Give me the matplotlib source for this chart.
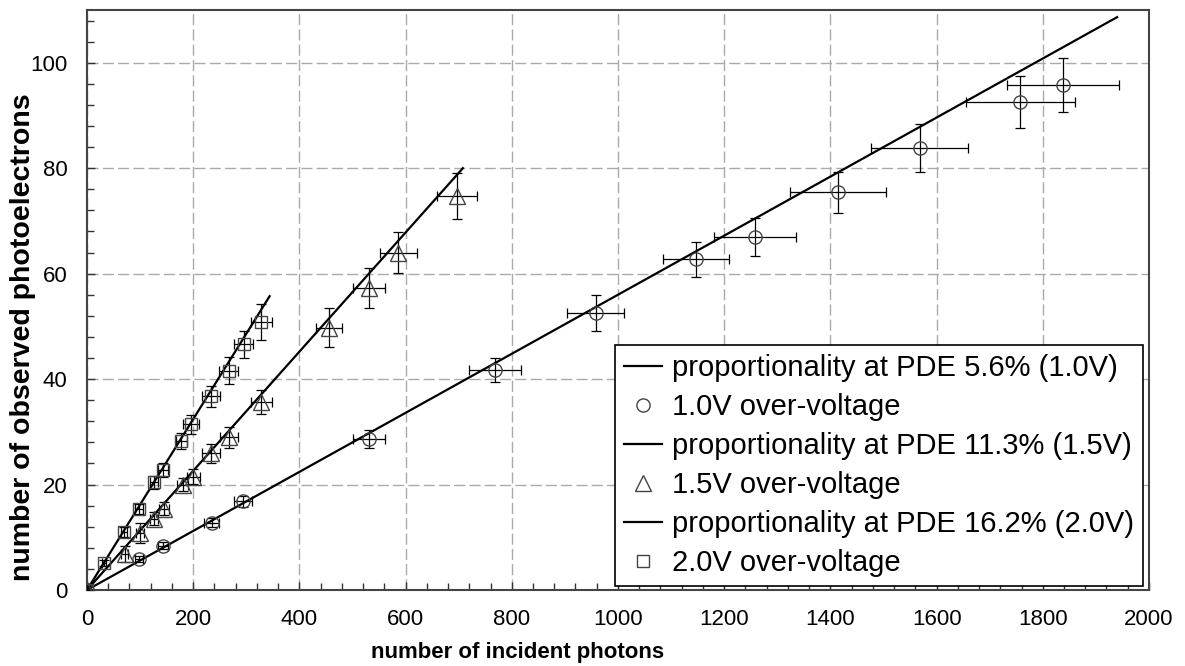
import matplotlib
matplotlib.use("Agg")
import matplotlib.pyplot as plt
from matplotlib.ticker import MultipleLocator

plt.rcParams["font.family"] = ["Liberation Sans", "DejaVu Sans"]

# 1.0V over-voltage (circles)
x10 = [0, 98, 143, 235, 293, 531, 768, 958, 1147, 1258, 1414, 1568, 1758, 1838]
y10 = [0, 5.9, 8.4, 12.8, 16.8, 28.6, 41.7, 52.6, 62.7, 67.0, 75.4, 83.8, 92.6, 95.8]
xe10 = [0, 7, 9, 14, 17, 30, 49, 54, 63, 77, 90, 91, 103, 106]
ye10 = [0, 0.6, 0.7, 0.9, 1.1, 1.7, 2.3, 3.4, 3.3, 3.6, 3.9, 4.5, 4.9, 5.1]

# 1.5V over-voltage (triangles)
x15 = [0, 71, 100, 126, 145, 180, 200, 234, 268, 328, 456, 531, 586, 697]
y15 = [0, 6.9, 10.9, 13.5, 15.4, 20.0, 21.5, 25.9, 29.0, 35.6, 49.7, 57.3, 64.0, 74.7]
xe15 = [0, 6, 7, 8, 9, 11, 12, 17, 17, 20, 24, 30, 35, 37]
ye15 = [0, 1.5, 1.9, 1.2, 1.2, 1.3, 1.4, 1.8, 2.0, 2.3, 3.7, 3.8, 3.9, 4.4]

# 2.0V over-voltage (squares)
x20 = [0, 32, 70, 98, 126, 143, 178, 196, 234, 267, 295, 328]
y20 = [0, 5.1, 11.0, 15.4, 20.4, 22.7, 28.2, 31.4, 36.7, 41.6, 46.6, 50.9]
xe20 = [0, 4, 6, 7, 8, 9, 10, 15, 17, 18, 18, 20]
ye20 = [0, 0.6, 0.9, 1.0, 1.2, 1.3, 1.5, 1.8, 2.0, 2.6, 2.6, 3.4]

# proportionality lines: PDE and x end of the line
pde = [0.056, 0.113, 0.162]
x_end = [1940, 708, 344]
volts = ["1.0V", "1.5V", "2.0V"]

fig = plt.figure(figsize=(11.85, 6.66), dpi=100)
ax = fig.add_axes([0.0734, 0.1141, 0.8962, 0.8709])

series = [(x10, y10, xe10, ye10, "o", 9.5), (x15, y15, xe15, ye15, "^", 11),
          (x20, y20, xe20, ye20, "s", 8.5)]
for (xs, ys, xe, ye, m, ms), p, xm, v in zip(series, pde, x_end, volts):
    ax.plot([0, xm], [0, p * xm], color="black", lw=1.6,
            label="proportionality at PDE %.1f%% (%s)" % (p * 100, v))
    ax.errorbar(xs, ys, xerr=xe, yerr=ye, fmt="none", ecolor="black", elinewidth=0.9,
                capsize=3.5, capthick=0.9, zorder=3)
    ax.plot(xs, ys, m, mfc="none", mec="#444444", mew=1.0, ms=ms,
            label="%s over-voltage" % v, zorder=4)

ax.set_xlim(0, 2000)
ax.set_ylim(0, 110)
ax.xaxis.set_major_locator(MultipleLocator(200))
ax.xaxis.set_minor_locator(MultipleLocator(40))
ax.yaxis.set_major_locator(MultipleLocator(20))
ax.yaxis.set_minor_locator(MultipleLocator(4))
ax.tick_params(which="both", direction="in", colors="#333333", labelcolor="black",
               labelsize=16, pad=14)
ax.tick_params(which="major", length=6, width=1)
ax.tick_params(which="minor", length=5, width=1)
ax.grid(True, which="major", color="#aaaaaa", lw=1.0, ls=(0, (8, 3)))
ax.set_axisbelow(True)
for s in ax.spines.values():
    s.set_color("#444444")
    s.set_linewidth(1.5)

ax.set_xlabel("number of incident photons", fontsize=16, fontweight="bold", labelpad=0)
ax.xaxis.set_label_coords(0.405, -0.09)
ax.set_ylabel("number of observed photoelectrons", fontsize=20.5, fontweight="bold")
ax.yaxis.set_label_coords(-0.048, 0.436)

leg = ax.legend(loc="lower right", bbox_to_anchor=(0.994, 0.007), fontsize=21,
                frameon=True, fancybox=False, framealpha=1, edgecolor="black",
                borderpad=0.3, labelspacing=0.38, handlelength=1.3, handletextpad=0.35,
                borderaxespad=0)
leg.get_frame().set_linewidth(1.2)

fig.savefig("out.png", dpi=100)
